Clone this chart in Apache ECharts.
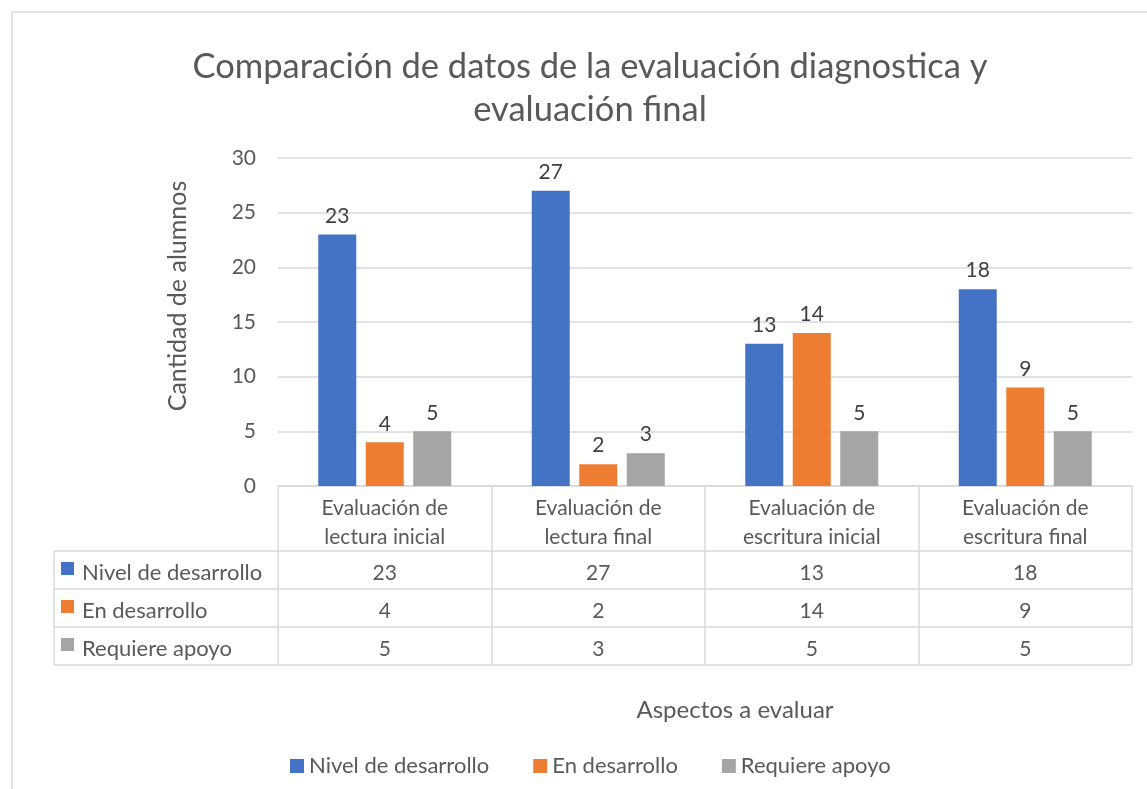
<!DOCTYPE html>
<html>
<head>
<meta charset="utf-8">
<script src="https://cdn.jsdelivr.net/npm/echarts@6/dist/echarts.min.js"></script>
<style>
  html, body { margin: 0; padding: 0; background: #fff; }
  #chart { width: 1147px; height: 789px; }
</style>
</head>
<body>
<div id="chart"></div>
<script>
// chart data
var categories = ['Evaluación de\nlectura inicial', 'Evaluación de\nlectura final', 'Evaluación de\nescritura inicial', 'Evaluación de\nescritura final'];
var seriesNames = ['Nivel de desarrollo', 'En desarrollo', 'Requiere apoyo'];
var nivelDesarrollo = [23, 27, 13, 18];
var enDesarrollo = [4, 2, 14, 9];
var requiereApoyo = [5, 3, 5, 5];
var colors = ['#4472C4', '#ED7D31', '#A5A5A5'];

var FONT = 'Lato';
var TEXT = '#595959';
var LINE = '#d9d9d9';

var chart = echarts.init(document.getElementById('chart'));

function barSeries(name, data, color) {
  return {
    name: name,
    type: 'bar',
    data: data,
    barWidth: 38,
    barGap: '25%',
    itemStyle: { color: color },
    label: {
      show: true,
      position: 'top',
      distance: 8,
      color: '#404040',
      fontFamily: FONT,
      fontSize: 21
    },
    animation: false
  };
}

chart.setOption({
  animation: false,
  title: {
    text: 'Comparación de datos de la evaluación diagnostica y\nevaluación final',
    left: 585,
    textAlign: 'center',
    top: 40,
    textStyle: {
      fontFamily: FONT,
      fontWeight: 'normal',
      fontSize: 34.5,
      lineHeight: 43,
      color: TEXT
    }
  },
  legend: {
    data: seriesNames,
    left: 285,
    top: 750,
    icon: 'rect',
    itemWidth: 14,
    itemHeight: 14,
    itemGap: 44,
    textStyle: { fontFamily: FONT, fontSize: 22, color: TEXT }
  },
  grid: {
    left: 278,
    right: 15,
    top: 158,
    bottom: 303
  },
  xAxis: {
    type: 'category',
    data: categories,
    axisLine: { lineStyle: { color: LINE, width: 1.5 } },
    axisTick: { show: true, length: 178, lineStyle: { color: LINE, width: 1.5 } },
    axisLabel: {
      fontFamily: FONT,
      fontSize: 21,
      lineHeight: 29,
      color: TEXT,
      margin: 8
    },
    name: 'Aspectos a evaluar',
    nameLocation: 'middle',
    nameGap: 212,
    nameTextStyle: { fontFamily: FONT, fontSize: 24, color: TEXT, padding: [0, 0, 0, 60] }
  },
  yAxis: {
    type: 'value',
    min: 0,
    max: 30,
    interval: 5,
    axisLine: { show: false },
    axisTick: { show: false },
    splitLine: { lineStyle: { color: LINE, width: 1.5 } },
    axisLabel: { fontFamily: FONT, fontSize: 21, color: TEXT, margin: 22 },
    name: 'Cantidad de alumnos',
    nameLocation: 'middle',
    nameGap: 88,
    nameTextStyle: { fontFamily: FONT, fontSize: 25, color: TEXT, padding: [0, 0, 0, 52] }
  },
  series: [
    barSeries(seriesNames[0], nivelDesarrollo, colors[0]),
    barSeries(seriesNames[1], enDesarrollo, colors[1]),
    barSeries(seriesNames[2], requiereApoyo, colors[2])
  ]
});

// data table under the axis, built from the same arrays
function drawTable() {
  var rows = [nivelDesarrollo, enDesarrollo, requiereApoyo];
  var rowLines = [551, 589, 627, 665];
  var tableLeft = 54;
  var right = chart.getWidth() - 15;
  var elements = [];

  // outer chart border
  elements.push({
    type: 'rect',
    shape: { x: 12, y: 12, width: 1150, height: 800 },
    style: { fill: null, stroke: LINE, lineWidth: 1.5 },
    silent: true
  });

  rowLines.forEach(function (y) {
    elements.push({
      type: 'line',
      shape: { x1: tableLeft, y1: y, x2: right, y2: y },
      style: { stroke: LINE, lineWidth: 1.5 },
      silent: true
    });
  });
  elements.push({
    type: 'line',
    shape: { x1: tableLeft, y1: rowLines[0], x2: tableLeft, y2: rowLines[3] },
    style: { stroke: LINE, lineWidth: 1.5 },
    silent: true
  });

  rows.forEach(function (values, r) {
    var cy = (rowLines[r] + rowLines[r + 1]) / 2 + 3;
    elements.push({
      type: 'rect',
      shape: { x: 61, y: cy - 11, width: 13, height: 13 },
      style: { fill: colors[r] },
      silent: true
    });
    elements.push({
      type: 'text',
      x: 82,
      y: cy,
      style: {
        text: seriesNames[r],
        fontFamily: FONT,
        fontSize: 22,
        fill: TEXT,
        verticalAlign: 'middle'
      },
      silent: true
    });
    values.forEach(function (v, c) {
      var cx = chart.convertToPixel({ xAxisIndex: 0 }, c);
      elements.push({
        type: 'text',
        x: cx,
        y: cy,
        style: {
          text: String(v),
          fontFamily: FONT,
          fontSize: 21,
          fill: TEXT,
          align: 'center',
          verticalAlign: 'middle'
        },
        silent: true
      });
    });
  });

  chart.setOption({ graphic: { elements: elements } });
}

drawTable();
</script>
</body>
</html>
